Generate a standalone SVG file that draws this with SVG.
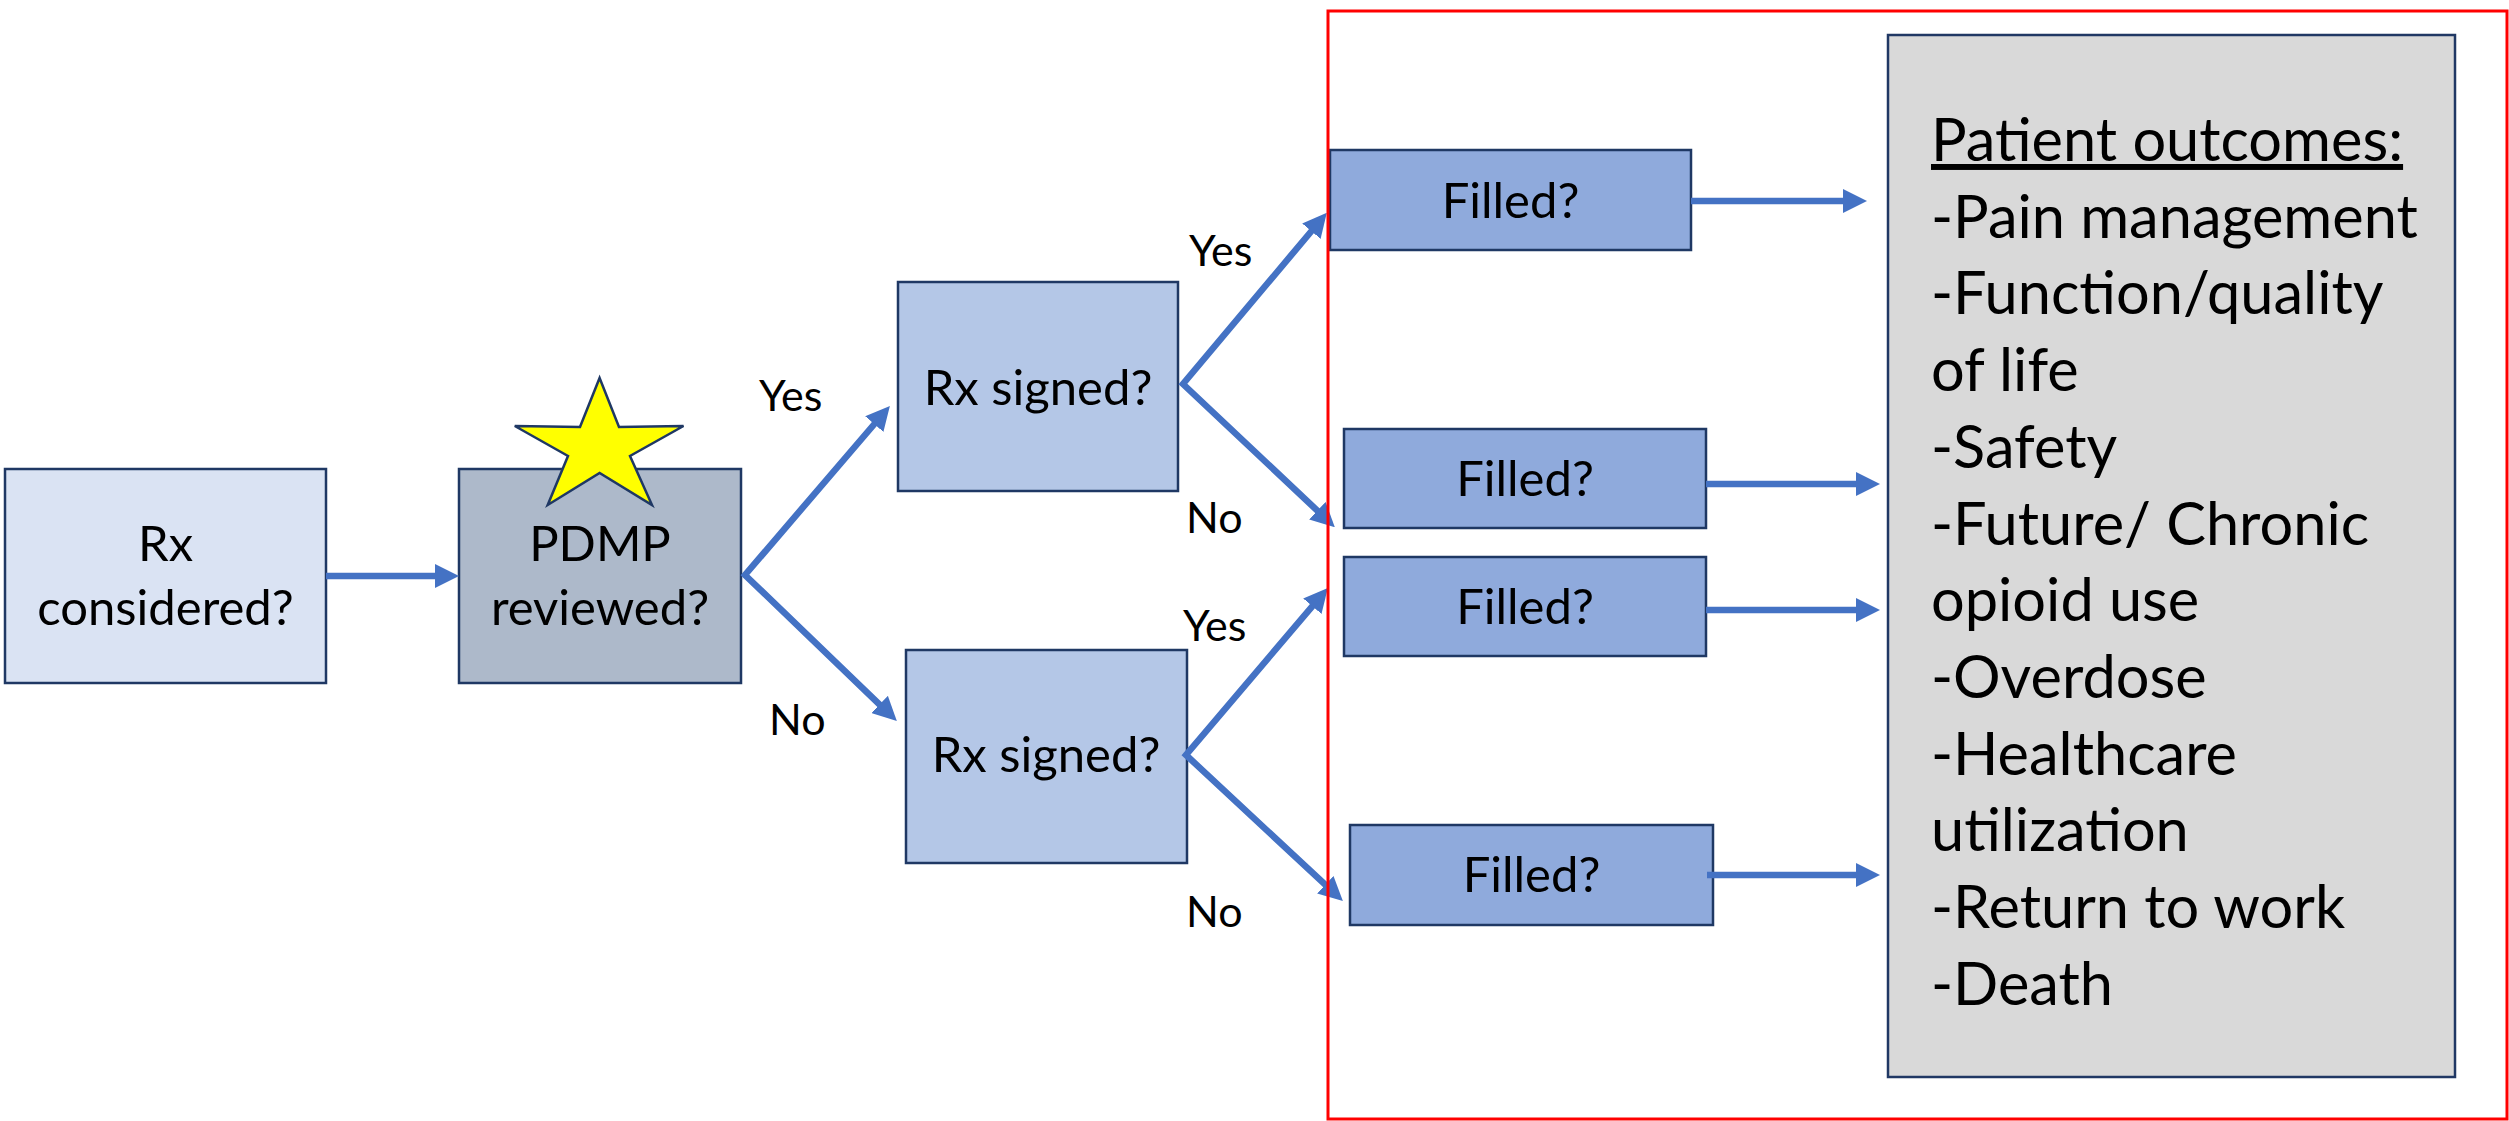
<svg xmlns="http://www.w3.org/2000/svg" width="2509" height="1121" viewBox="0 0 2509 1121">
<defs>
<style>
text { font-family: Lato, "Open Sans", "Liberation Sans", sans-serif; fill:#000; }
.box { stroke:#1f3864; stroke-width:2.5; }
.lbl { font-size:49px; text-anchor:middle; }
.yn { font-size:43px; }
.out { font-size:59.5px; }
.conn { fill:none; stroke:#4472c4; stroke-width:6.5; stroke-linejoin:miter; stroke-miterlimit:10; marker-end:url(#ah); }
.fork { marker-start:url(#ah); }
</style>
<marker id="ah" markerUnits="userSpaceOnUse" markerWidth="24" markerHeight="24" refX="12" refY="12" orient="auto-start-reverse" viewBox="0 0 24 24"><path d="M0,0 L24,12 L0,24 z" fill="#4472c4"/></marker>
</defs>
<rect width="2509" height="1121" fill="#fff"/>

<g id="rx-considered">
<rect class="box" x="5" y="469" width="321" height="214" fill="#dae3f3"/>
<text class="lbl" x="165.5" y="561">Rx</text>
<text class="lbl" x="165.5" y="625">considered?</text>
</g>

<g id="pdmp-reviewed">
<rect class="box" x="459" y="469" width="282" height="214" fill="#adb9ca"/>
<text class="lbl" x="600" y="561">PDMP</text>
<text class="lbl" x="600" y="625">reviewed?</text>
</g>

<g id="star">
<polygon points="599.6,378 619,427 683.5,426 630,456 652,505 599.6,473 547.7,505 568,456 514.8,426 580,427" fill="#ffff00" stroke="#1f3864" stroke-width="2.5" stroke-linejoin="miter"/>
</g>

<g id="rx-signed-yes">
<rect class="box" x="898" y="282" width="280" height="209" fill="#b4c7e7"/>
<text class="lbl" x="1038" y="405">Rx signed?</text>
</g>

<g id="rx-signed-no">
<rect class="box" x="906" y="650" width="281" height="213" fill="#b4c7e7"/>
<text class="lbl" x="1046" y="772">Rx signed?</text>
</g>

<g id="filled-1">
<rect class="box" x="1330" y="150" width="361" height="100" fill="#8faadc"/>
<text class="lbl" x="1510.5" y="218">Filled?</text>
</g>
<g id="filled-2">
<rect class="box" x="1344" y="429" width="362" height="99" fill="#8faadc"/>
<text class="lbl" x="1525" y="496">Filled?</text>
</g>
<g id="filled-3">
<rect class="box" x="1344" y="557" width="362" height="99" fill="#8faadc"/>
<text class="lbl" x="1525" y="623.5">Filled?</text>
</g>
<g id="filled-4">
<rect class="box" x="1350" y="825" width="363" height="100" fill="#8faadc"/>
<text class="lbl" x="1531.5" y="892">Filled?</text>
</g>

<g id="patient-outcomes">
<rect x="1888" y="35" width="567" height="1042" fill="#d9d9d9" stroke="#203864" stroke-width="2.5"/>
<text class="out" x="1931" y="161"><tspan text-decoration="underline">Patient outcomes:</tspan></text>
<text class="out" x="1931" y="237.7">-Pain management</text>
<text class="out" x="1931" y="314.4">-Function/quality</text>
<text class="out" x="1931" y="391.1">of life</text>
<text class="out" x="1931" y="467.8">-Safety</text>
<text class="out" x="1931" y="544.5">-Future/ Chronic</text>
<text class="out" x="1931" y="621.2">opioid use</text>
<text class="out" x="1931" y="697.9">-Overdose</text>
<text class="out" x="1931" y="774.6">-Healthcare</text>
<text class="out" x="1931" y="851.3">utilization</text>
<text class="out" x="1931" y="928">-Return to work</text>
<text class="out" x="1931" y="1004.7">-Death</text>
</g>

<g id="connectors">
<path class="conn" d="M326,576 L447,576"/>
<path class="conn fork" d="M882.1,415 L745,575 L888.2,712.8"/>
<path class="conn fork" d="M1319.1,222 L1183,384 L1326.1,518.9"/>
<path class="conn fork" d="M1320.1,597.1 L1186,755 L1334.1,892.9"/>
<path class="conn" d="M1691,201 L1855,201"/>
<path class="conn" d="M1706,484 L1868,484"/>
<path class="conn" d="M1706,610 L1868,610"/>
<path class="conn" d="M1707,875 L1868,875"/>
</g>

<g id="labels">
<text class="yn" x="759" y="411">Yes</text>
<text class="yn" x="769" y="735">No</text>
<text class="yn" x="1189" y="266">Yes</text>
<text class="yn" x="1186" y="533">No</text>
<text class="yn" x="1183" y="641">Yes</text>
<text class="yn" x="1186" y="927">No</text>
</g>

<g id="frame">
<rect x="1328" y="11" width="1179" height="1108" fill="none" stroke="#ff0000" stroke-width="3"/>
</g>
</svg>
